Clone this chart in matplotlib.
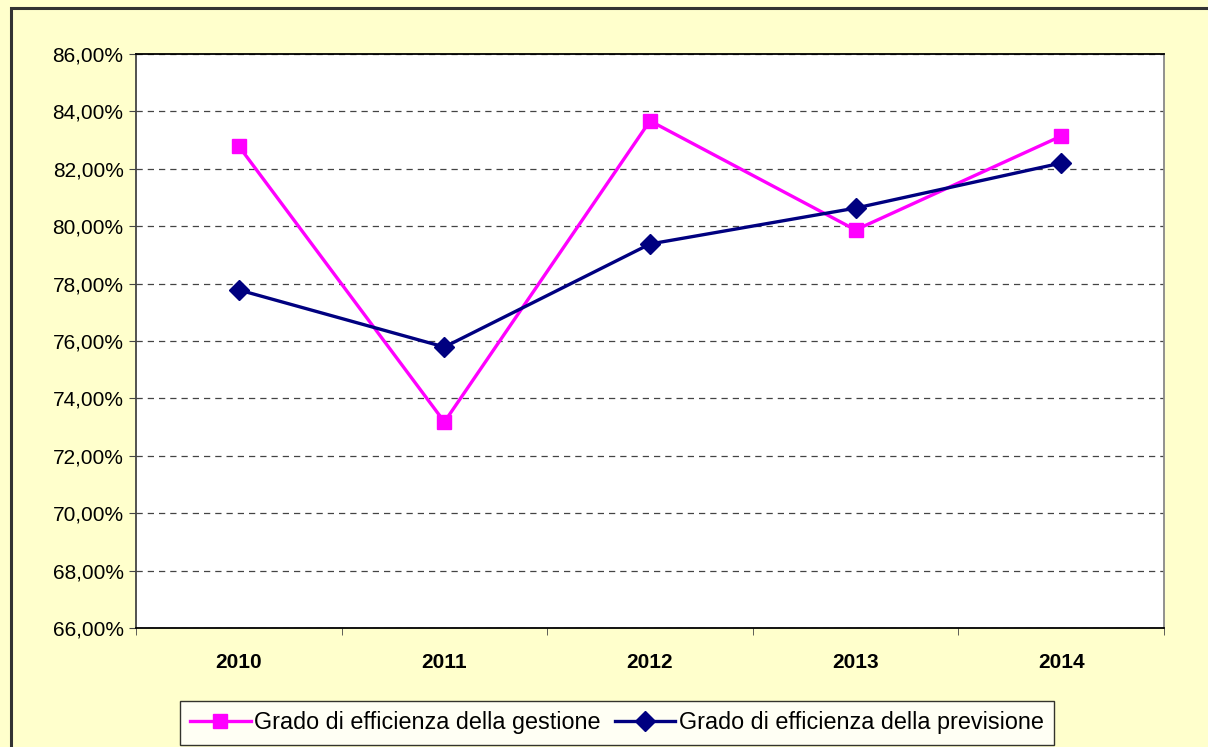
import numpy as np
import matplotlib.pyplot as plt
from matplotlib.patches import Rectangle
from matplotlib.ticker import FuncFormatter, FixedLocator

anni = ["2010", "2011", "2012", "2013", "2014"]
gestione = [82.79, 73.18, 83.67, 79.87, 83.14]
previsione = [77.78, 75.79, 79.38, 80.63, 82.20]

plt.rcParams['font.family'] = ['Liberation Sans', 'DejaVu Sans']

fig = plt.figure(figsize=(12.08, 7.47), dpi=100, facecolor="#FFFFCC")
# bordo esterno
fig.patches.append(Rectangle((11 / 1208, -0.05), 1.2, 1 - 8 / 747 + 0.05,
                             transform=fig.transFigure, fill=False,
                             edgecolor="#333333", linewidth=2.2))

ax = fig.add_axes([136 / 1208, 1 - 628 / 747, 1028 / 1208, 574 / 747])
ax.set_facecolor("white")

x = np.arange(len(anni))
ax.plot(x, gestione, color="#FF00FF", linewidth=2.4, marker="s", markersize=10,
        label="Grado di efficienza della gestione")
ax.plot(x, previsione, color="#000080", linewidth=2.4, marker="D", markersize=10.5,
        label="Grado di efficienza della previsione")

ax.set_xlim(-0.5, len(anni) - 0.5)
ax.set_ylim(66, 86)
ax.set_yticks(np.arange(66, 86.1, 2))
ax.yaxis.set_major_formatter(FuncFormatter(lambda v, p: f"{v:.2f}%".replace(".", ",")))
ax.grid(axis="y", linestyle=(0, (5, 4)), color="#444444", linewidth=0.9)
ax.set_axisbelow(True)

ax.set_xticks(x)
ax.set_xticklabels(anni, fontweight="bold", fontsize=15)
ax.tick_params(axis="x", length=0, pad=18)
ax.xaxis.set_minor_locator(FixedLocator(np.arange(-0.5, len(anni), 1)))
ax.tick_params(axis="x", which="minor", length=5, direction="out", color="#444444")
ax.tick_params(axis="y", labelsize=15, length=5, direction="out", color="#444444", pad=4)

ax.spines["top"].set_color("black")
ax.spines["bottom"].set_color("black")
ax.spines["left"].set_color("#444444")
ax.spines["right"].set_color("#888888")
for s in ax.spines.values():
    s.set_linewidth(1.3)

leg = fig.legend(loc="center", bbox_to_anchor=(617 / 1208, 1 - 723 / 747), ncol=2,
                 fontsize=16.8, frameon=True, fancybox=False, edgecolor="black",
                 handlelength=2.6, handletextpad=0.15, columnspacing=0.6,
                 borderpad=0.45, borderaxespad=0)
leg.get_frame().set_linewidth(1.0)
leg.get_frame().set_facecolor("white")

fig.savefig("out.png", dpi=100, facecolor=fig.get_facecolor())
